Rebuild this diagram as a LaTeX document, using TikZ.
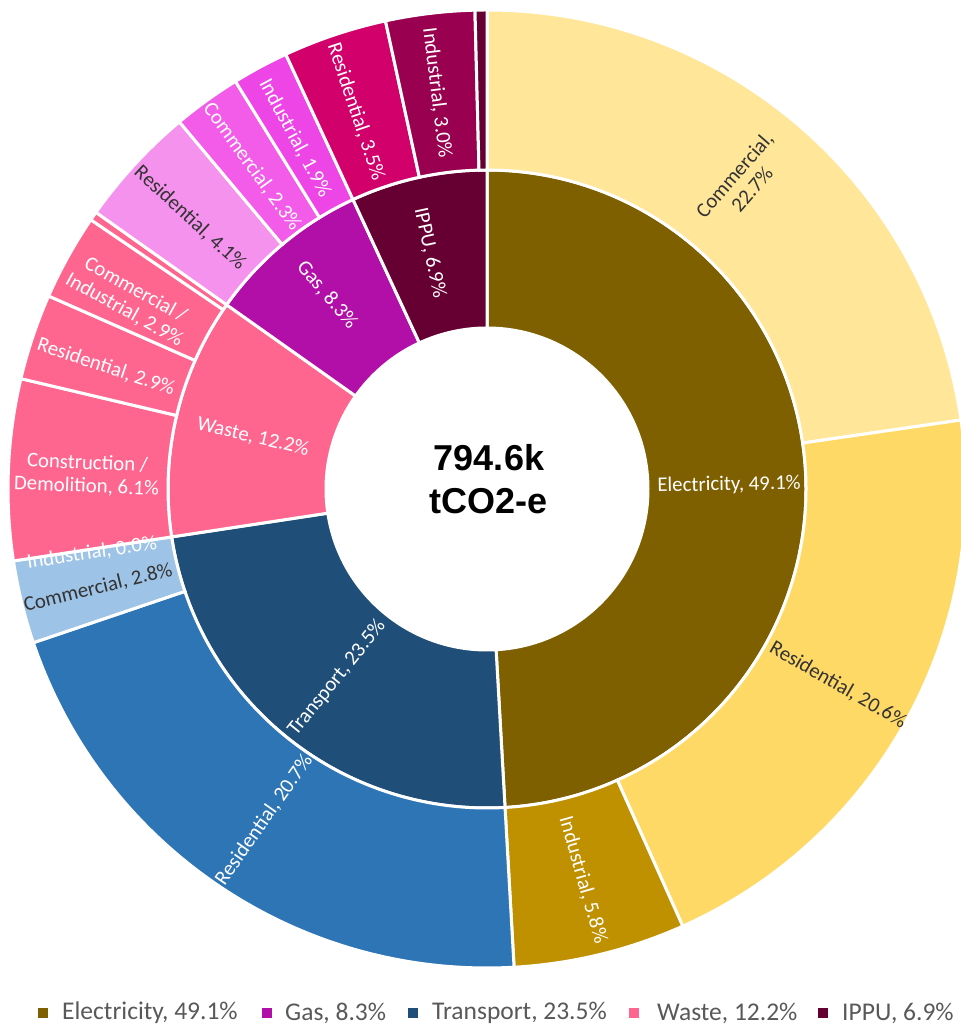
\documentclass[tikz,border=0pt]{standalone}
\usepackage{fontspec}
\setmainfont{Carlito}
\newfontfamily\boldsans{Liberation Sans}
\definecolor{elec}{HTML}{7F6000}
\definecolor{elecC}{HTML}{FFE699}
\definecolor{elecR}{HTML}{FFD966}
\definecolor{elecI}{HTML}{BF9000}
\definecolor{tran}{HTML}{1F4E79}
\definecolor{tranR}{HTML}{2E75B6}
\definecolor{tranC}{HTML}{9DC3E6}
\definecolor{waste}{HTML}{FF668F}
\definecolor{gas}{HTML}{B20FA8}
\definecolor{gasR}{HTML}{F592EE}
\definecolor{gasC}{HTML}{F25CE8}
\definecolor{gasI}{HTML}{EE46E6}
\definecolor{ippu}{HTML}{660033}
\definecolor{ippuR}{HTML}{D1006A}
\definecolor{ippuI}{HTML}{990050}
\definecolor{darktxt}{HTML}{333333}
\definecolor{legtxt}{HTML}{595959}
\newcommand\sectorfill[5]{%
  \filldraw[fill=#1,draw=white,line width=3pt,line join=miter]
    (#2:#4pt) arc[start angle=#2,end angle=#3,radius=#4pt]
    -- (#3:#5pt) arc[start angle=#3,end angle=#2,radius=#5pt] -- cycle;}
\tikzset{
  lbl/.style={font=\fontsize{20.8}{23}\selectfont,text=white,align=center,inner sep=0pt},
  dlbl/.style={lbl,text=darktxt},
  legbox/.style={minimum size=10pt,inner sep=0pt},
  legtext/.style={font=\fontsize{25.5}{27}\selectfont,text=legtxt,anchor=west,inner sep=0pt}
}
\begin{document}
\begin{tikzpicture}[x=1pt,y=1pt]
\useasboundingbox (0,0) rectangle (961,1028);
\fill[white] (0,0) rectangle (961,1028);
\begin{scope}
\clip (0,0) rectangle (961,1028);
\begin{scope}[shift={(487,539)}]
% inner ring
\sectorfill{elec}{-86.76}{90}{161}{319}
\sectorfill{tran}{188.64}{273.24}{161}{319}
\sectorfill{waste}{144.72}{188.64}{161}{319}
\sectorfill{gas}{114.84}{144.72}{161}{319}
\sectorfill{ippu}{90}{114.84}{161}{319}
% outer ring
\sectorfill{elecC}{8.28}{90}{319}{479}
\sectorfill{elecR}{-65.88}{8.28}{319}{479}
\sectorfill{elecI}{-86.76}{-65.88}{319}{479}
\sectorfill{tranR}{198.72}{273.24}{319}{479}
\sectorfill{tranC}{188.64}{198.72}{319}{479}
\sectorfill{waste}{166.68}{188.64}{319}{479}
\sectorfill{waste}{156.24}{166.68}{319}{479}
\sectorfill{waste}{145.8}{156.24}{319}{479}
\sectorfill{waste}{144.72}{145.8}{319}{479}
\sectorfill{gasR}{129.96}{144.72}{319}{479}
\sectorfill{gasC}{121.68}{129.96}{319}{479}
\sectorfill{gasI}{114.84}{121.68}{319}{479}
\sectorfill{ippuR}{102.24}{114.84}{319}{479}
\sectorfill{ippuI}{91.44}{102.24}{319}{479}
\sectorfill{ippu}{90}{91.44}{319}{479}
\end{scope}
\end{scope}
% center text
\node[font=\boldsans\bfseries\fontsize{36}{43}\selectfont,align=center,inner sep=0pt] (total) at (489,549) {794.6k\\tCO2-e};
% inner labels
\node[lbl,rotate=1] (lelec) at (729,543) {Electricity, 49.1\%};
\node[lbl,rotate=51] (ltran) at (337,350) {Transport, 23.5\%};
\node[lbl,rotate=-13.3] (lwaste) at (253,591) {Waste, 12.2\%};
\node[lbl,rotate=-50] (lgas) at (327,733) {Gas, 8.3\%};
\node[lbl,rotate=-77.6] (lippu) at (430,775) {IPPU, 6.9\%};
% outer labels
\node[dlbl,rotate=49] (lec) at (743,846) {Commercial,\\22.7\%};
\node[dlbl,rotate=-30] (ler) at (838,343) {Residential, 20.6\%};
\node[lbl,rotate=-74] (lei) at (583,148) {Industrial, 5.8\%};
\node[lbl,rotate=55] (ltr) at (264,208) {Residential, 20.7\%};
\node[dlbl,rotate=13.7] (ltc) at (98,440) {Commercial, 2.8\%};
\node[lbl,rotate=8.6] (lti) at (92,475) {Industrial, 0.0\%};
\node[lbl,rotate=-2.3] (lwc) at (87,553) {Construction /\\Demolition, 6.1\%};
\node[lbl,rotate=-18.5] (lwr) at (106,661) {Residential, 2.9\%};
\node[lbl,rotate=-29] (lwi) at (130,728) {Commercial /\\Industrial, 2.9\%};
\node[dlbl,rotate=-42.7] (lgr) at (190,810) {Residential, 4.1\%};
\node[lbl,rotate=-54] (lgc) at (252,861) {Commercial, 2.3\%};
\node[lbl,rotate=-61.7] (lgi) at (295,890) {Industrial, 1.9\%};
\node[lbl,rotate=-71.5] (lir) at (356,916) {Residential, 3.5\%};
\node[lbl,rotate=-83] (lii) at (437,935) {Industrial, 3.0\%};
% legend
\node[legbox,fill=elec] (k1) at (43,15) {};
\node[legtext] (t1) at (62,15) {Electricity, 49.1\%};
\node[legbox,fill=gas] (k2) at (267,15) {};
\node[legtext] (t2) at (285,15) {Gas, 8.3\%};
\node[legbox,fill=tran] (k3) at (413,15) {};
\node[legtext] (t3) at (432,15) {Transport, 23.5\%};
\node[legbox,fill=waste] (k4) at (634,15) {};
\node[legtext] (t4) at (657,15) {Waste, 12.2\%};
\node[legbox,fill=ippu] (k5) at (823,15) {};
\node[legtext] (t5) at (842,15) {IPPU, 6.9\%};
\end{tikzpicture}
\end{document}
